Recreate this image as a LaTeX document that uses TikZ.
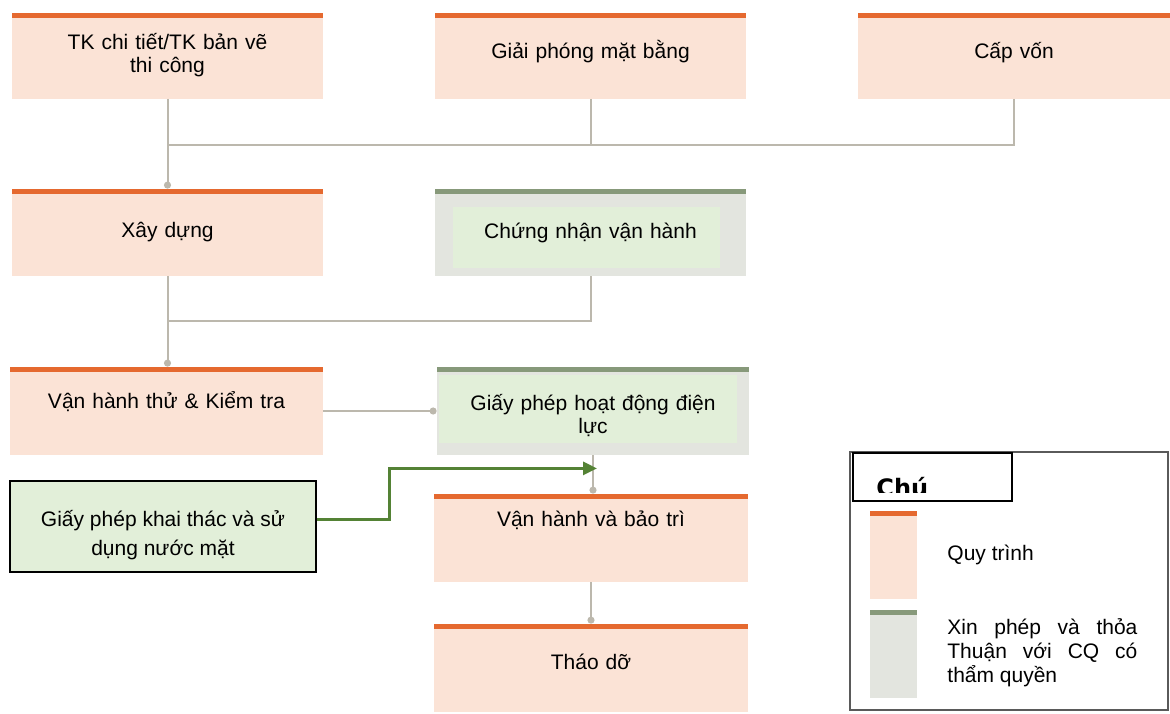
\documentclass[tikz,border=0pt]{standalone}
\usepackage{fontspec}
\setmainfont{Liberation Sans}
\newfontfamily\titlefont{DejaVu Sans}
\usepackage{tikz}
\usetikzlibrary{arrows.meta, positioning}

\definecolor{procfill}{HTML}{FBE3D6}
\definecolor{orangebar}{HTML}{E5692F}
\definecolor{greenbar}{HTML}{87997A}
\definecolor{greyfill}{HTML}{E3E5DF}
\definecolor{greenfill}{HTML}{E2EFD9}
\definecolor{linegrey}{HTML}{BCB8AD}
\definecolor{arrowgreen}{HTML}{548235}
\definecolor{legendgrey}{HTML}{5A5A5A}

\begin{document}
\begin{tikzpicture}[x=0.5pt, y=-0.5pt,
    every node/.style={font=\fontsize{10.5}{11.5}\selectfont},
    topbar/.style={path picture={\fill[#1] (path picture bounding box.north west) rectangle ([yshift=-2.6pt]path picture bounding box.north east);}},
    procbox/.style={rectangle, fill=procfill, topbar=orangebar, minimum width=155.5pt, minimum height=43pt, text width=150pt, align=center, inner sep=0pt},
    permitbox/.style 2 args={rectangle, fill=greyfill, minimum width=155.5pt, minimum height=43pt, text width=150pt, align=center, inner sep=0pt,
        path picture={
            \fill[greenfill] ([shift={#1}]path picture bounding box.north west) rectangle ([shift={#2}]path picture bounding box.south east);
            \fill[greenbar] (path picture bounding box.north west) rectangle ([yshift=-2.6pt]path picture bounding box.north east);}},
    textup/.style={text depth=#1},
    swatch/.style={minimum width=23.5pt, minimum height=44pt, inner sep=0pt},
    conn/.style={draw=linegrey, line width=1pt},
    dotend/.style={-{Circle[length=3.5pt]}},
    warrow/.style={draw=arrowgreen, line width=1.5pt, -{Triangle[length=7pt, width=6.5pt]}}]

    \useasboundingbox (0,0) rectangle (1170,713);

    % first row
    \node[procbox] (tk) at (167.5,55.5) {TK chi tiết/TK bản vẽ\\thi công};
    \node[procbox, textup=6.2pt] (gpmb) at (590.5,55.5) {Giải phóng mặt bằng};
    \node[procbox, minimum width=156pt, textup=5.4pt] (cv) at (1014,55.5) {Cấp vốn};

    % second row
    \node[procbox, minimum height=43.5pt] (xd) at (167.5,232.5) {Xây dựng};
    \node[permitbox={(9pt,-9pt)}{(-13pt,4pt)}, minimum height=43.5pt] (cnvh) at (590.5,232.5) {Chứng nhận vận hành};

    % third row
    \node[procbox, minimum width=156.5pt, minimum height=44pt, textup=11pt] (vht) at (166.5,411) {Vận hành thử \& Kiểm tra};
    \node[permitbox={(1pt,-4pt)}{(-6pt,6pt)}, minimum width=156pt, minimum height=44pt, text height=13pt] (gphd) at (593,411) {Giấy phép hoạt động điện\\lực};

    % water permit and last steps
    \node[draw=black, line width=0.8pt, fill=greenfill, minimum width=153pt, minimum height=45.5pt, align=center, text height=31pt] (gpkt) at (163,526.5) {Giấy phép khai thác và sử\\[3pt]dụng nước mặt};
    \node[procbox, minimum width=157pt, minimum height=44pt, textup=19pt] (vhbt) at (591,538) {Vận hành và bảo trì};
    \node[procbox, minimum width=157pt, minimum height=44pt, textup=6pt] (td) at (591,668) {Tháo dỡ};

    % connectors
    \coordinate (j1) at (tk.south |- 0,145);
    \coordinate (j2) at (xd.south |- 0,321);
    \draw[conn, dotend] (tk.south) -- (xd.north);
    \draw[conn] (cv.south) |- (j1);
    \draw[conn] (gpmb.south) -- (gpmb.south |- j1);
    \draw[conn, dotend] (xd.south) -- (xd.south |- vht.north);
    \draw[conn] (cnvh.south) |- (j2);
    \draw[conn, dotend] (vht.east) -- (gphd.west);
    \draw[conn, dotend] (gphd.south) -- (gphd.south |- vhbt.north);
    \draw[conn, dotend] (vhbt.south) -- (td.north);

    % green arrow
    \coordinate (tip) at ([shift={(4,13)}]gphd.south);
    \draw[warrow] ([yshift=3.75pt]gpkt.east) -- ++(73,0) |- (tip);

    % legend
    \node[draw=legendgrey, line width=0.8pt, minimum width=159pt, minimum height=129pt] (lgd) at (1009,581) {};
    \node[draw=black, line width=1pt, fill=white, minimum width=79.5pt, minimum height=24pt] (lgdtitle) at (932.5,477) {};
    \begin{scope}
        \clip (854,454) rectangle (1011,492);
        \node[anchor=base west, inner sep=0pt, font=\titlefont\bfseries\fontsize{12}{14}\selectfont] (chu) at (876,496) {Chú};
    \end{scope}
    \node[swatch, fill=procfill, topbar=orangebar] (swproc) at (893.5,554.5) {};
    \node[swatch, fill=greyfill, topbar=greenbar] (swperm) at (893.5,654) {};
    \node[anchor=west, inner sep=0pt] (txproc) at (947,555) {Quy trình};
    \node[anchor=west, inner sep=0pt, align=left, font=\fontsize{10.5}{12}\selectfont] (txperm) at (947,653)
        {\makebox[95pt][s]{Xin phép và thỏa}\\\makebox[95pt][s]{Thuận với CQ có}\\thẩm quyền};
\end{tikzpicture}
\end{document}
